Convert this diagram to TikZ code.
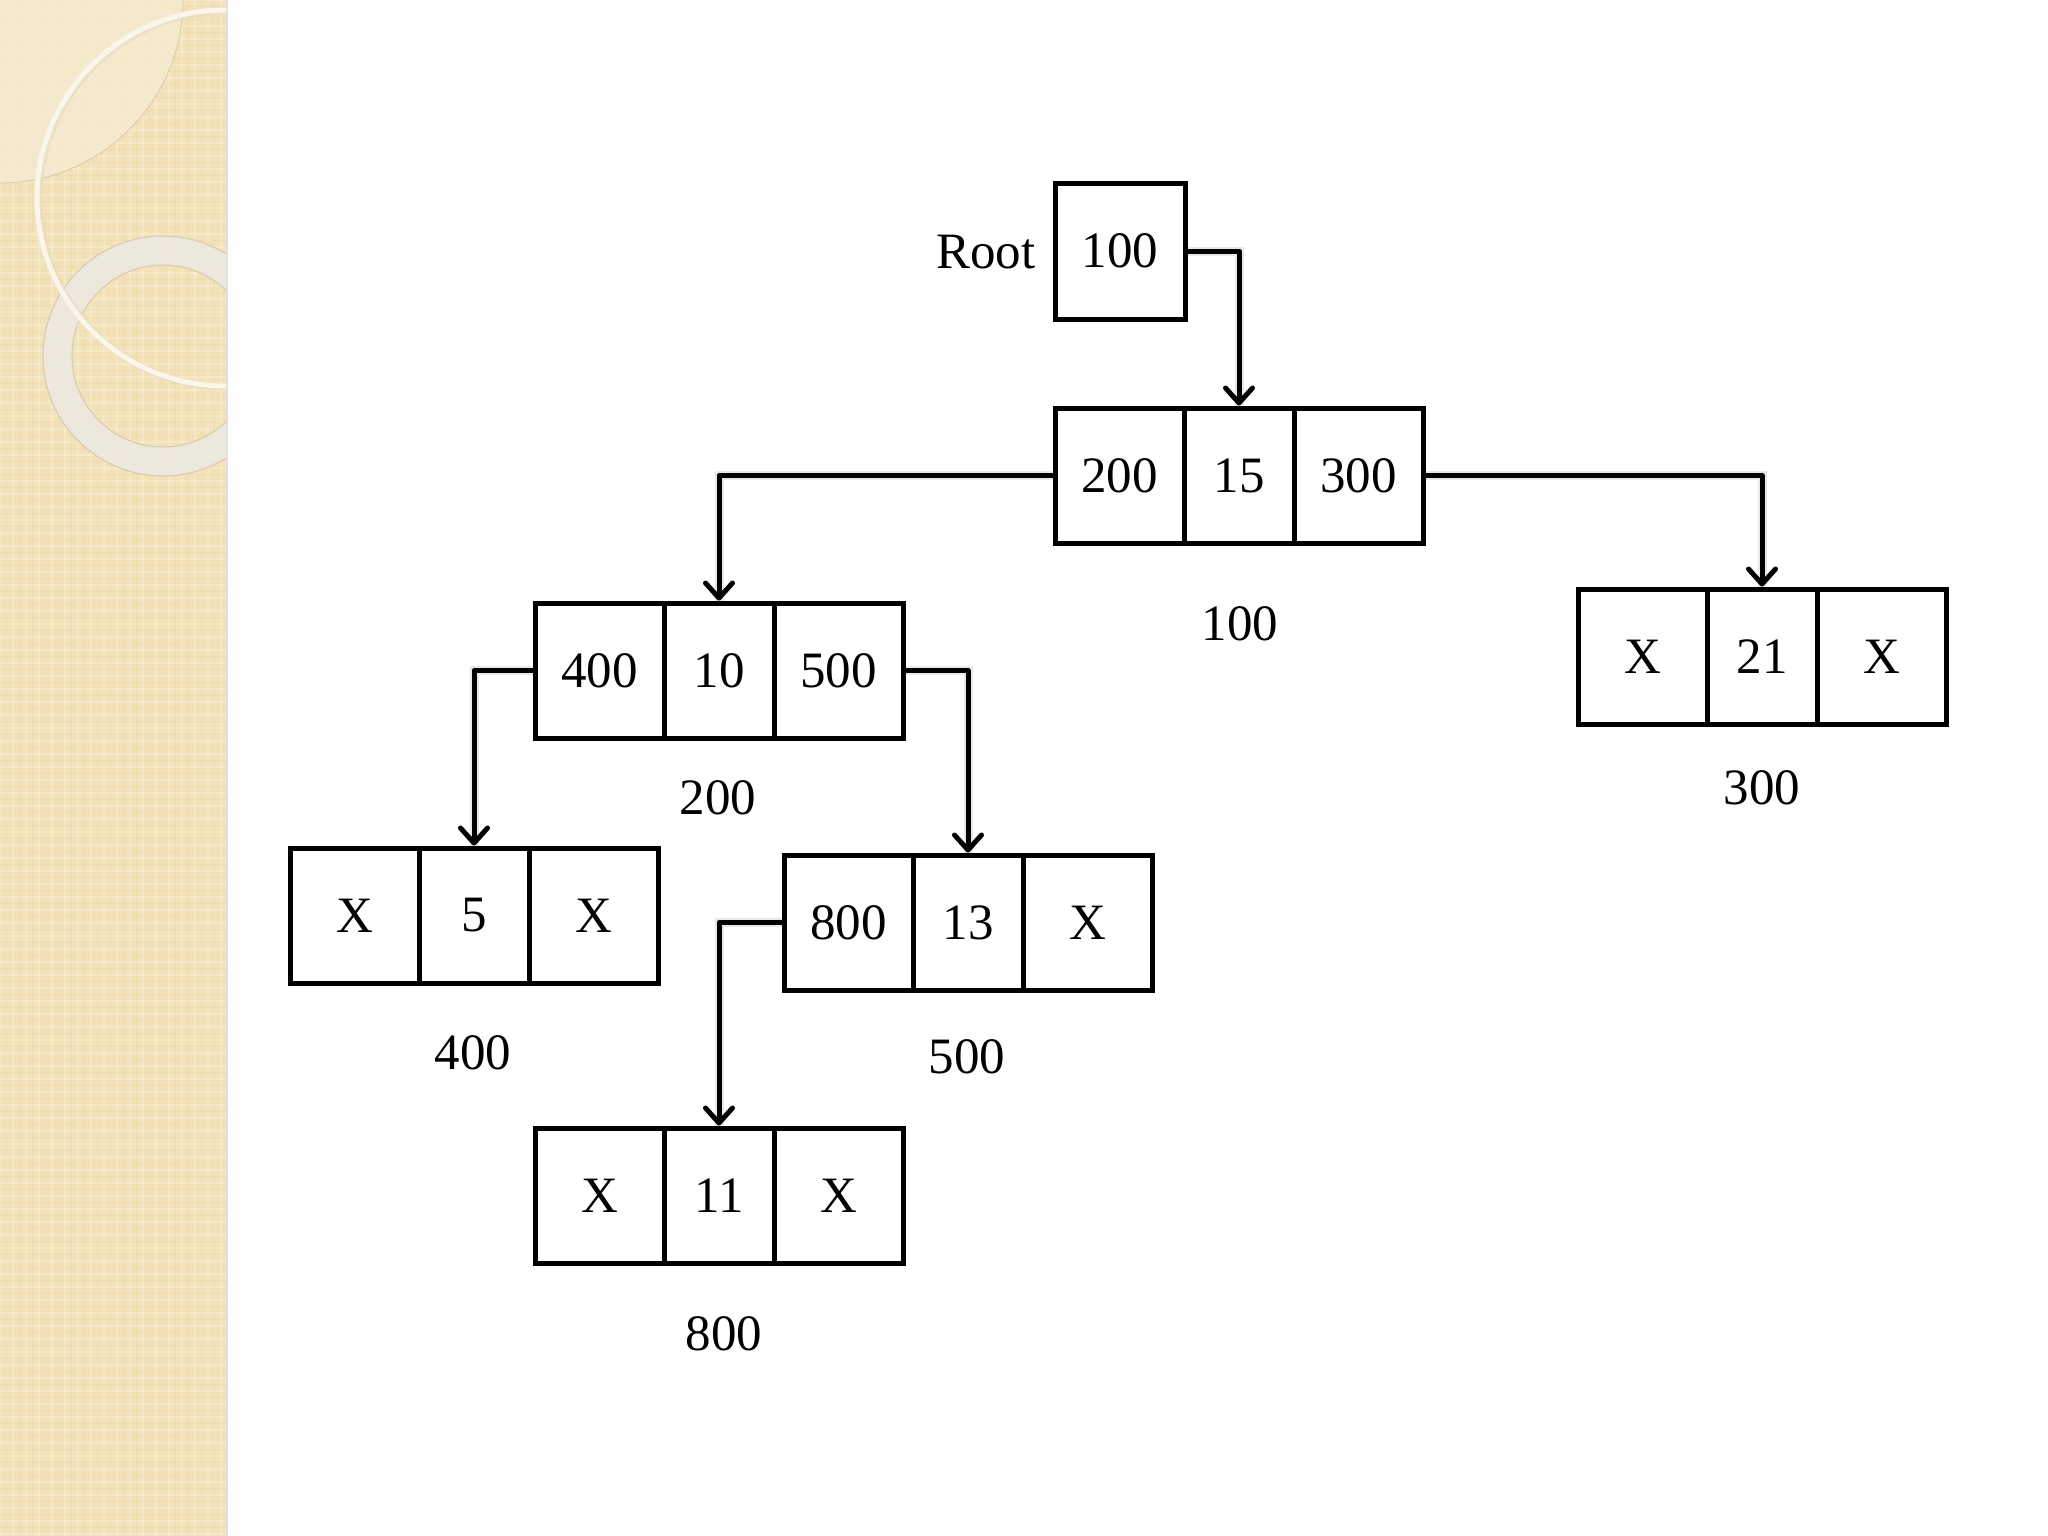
\documentclass[tikz,border=0pt]{standalone}
\usepackage{fontspec}
\setmainfont{Liberation Serif}
\usetikzlibrary{arrows.meta}
\definecolor{panel}{HTML}{F3E2B8}
\definecolor{panellight}{HTML}{F6EBD2}
\definecolor{ringthin}{HTML}{FBF6EA}
\definecolor{ringthick}{HTML}{EDE9E0}
\definecolor{ringedge}{HTML}{D6C9AE}
\tikzset{
  cell/.style={draw, line width=5pt, minimum height=135pt, inner sep=0pt,
    font=\fontsize{51}{60}\selectfont},
  lbl/.style={inner sep=0pt, font=\fontsize{51}{60}\selectfont},
  arr/.style={line width=5pt, line join=round,
    -{Straight Barb[length=15pt,width=27pt,line join=round,line cap=round]}},
  shadowline/.style={line width=9pt, draw=black, opacity=0.09, xshift=3pt, yshift=-4pt},
  gridline/.style={white, opacity=0.22, line width=2pt},
  gridinner/.style={brown, opacity=0.06, line width=1pt}
}
\newcommand\treenode[6]{%
  \node[cell, minimum width=129pt] (#1-l) at ({#2+64.5},{#3+67.5}) {#4};
  \node[cell, minimum width=110pt] (#1-m) at ({#2+184},{#3+67.5}) {#5};
  \node[cell, minimum width=129pt] (#1-r) at ({#2+303.5},{#3+67.5}) {#6};
}
\newcommand\conn[2]{% from, to
  \draw[shadowline] (#1) -| (#2);
  \draw[arr] (#1) -| (#2);
}
\begin{document}
\begin{tikzpicture}[x=1pt,y=-1pt]
\useasboundingbox (0,0) rectangle (2048,1536);
\fill[white] (0,0) rectangle (2048,1536);
% decorative left panel
\begin{scope}
  \clip (0,0) rectangle (226,1536);
  \fill[panel] (0,0) rectangle (226,1536);
  \foreach \gx in {0,13,...,234} {
    \draw[gridline] (\gx,0) -- (\gx,1536);
    \draw[gridinner] (\gx+6.5,0) -- (\gx+6.5,1536);
  }
  \foreach \gy in {0,13,...,1547} {
    \draw[gridline] (0,\gy) -- (226,\gy);
    \draw[gridinner] (0,\gy+6.5) -- (226,\gy+6.5);
  }
  \fill[panellight, opacity=0.8] (0,0) circle [radius=183pt];
  \draw[ringedge, line width=0.8pt] (0,0) circle [radius=183pt];
  \fill[ringthick, even odd rule, opacity=0.9] (163,356) circle [radius=120pt] (163,356) circle [radius=91pt];
  \draw[ringedge, line width=1pt] (163,356) circle [radius=120pt];
  \draw[ringedge, line width=1pt] (163,356) circle [radius=91pt];
  \draw[ringedge!70, line width=7pt, opacity=0.5] (227,199) circle [radius=188pt];
  \draw[ringthin, line width=5pt] (225,198) circle [radius=188pt];
\end{scope}
\draw[black!12, line width=2pt] (227,0) -- (227,1536);
% root
\node[cell, minimum width=130pt, minimum height=136pt] (root) at (1120,251) {100};
\node[lbl] (rootlbl) at (986,252) {Root};
% tree nodes
\treenode{n100}{1055}{408}{200}{15}{300}
\treenode{n200}{535}{603}{400}{10}{500}
\treenode{n300}{1578}{589}{X}{21}{X}
\treenode{n400}{290}{848}{X}{5}{X}
\treenode{n500}{784}{855}{800}{13}{X}
\treenode{n800}{535}{1128}{X}{11}{X}
% address labels
\node[lbl] (a100) at (1240,624) {100};
\node[lbl] (a300) at (1762,788) {300};
\node[lbl] (a200) at (718,798) {200};
\node[lbl] (a400) at (473,1053) {400};
\node[lbl] (a500) at (967,1057) {500};
\node[lbl] (a800) at (724,1334) {800};
% connectors
\conn{root.east}{n100-m.north}
\conn{n100-l.west}{n200-m.north}
\conn{n100-r.east}{n300-m.north}
\conn{n200-l.west}{n400-m.north}
\conn{n200-r.east}{n500-m.north}
\conn{n500-l.west}{n800-m.north}
\end{tikzpicture}
\end{document}
